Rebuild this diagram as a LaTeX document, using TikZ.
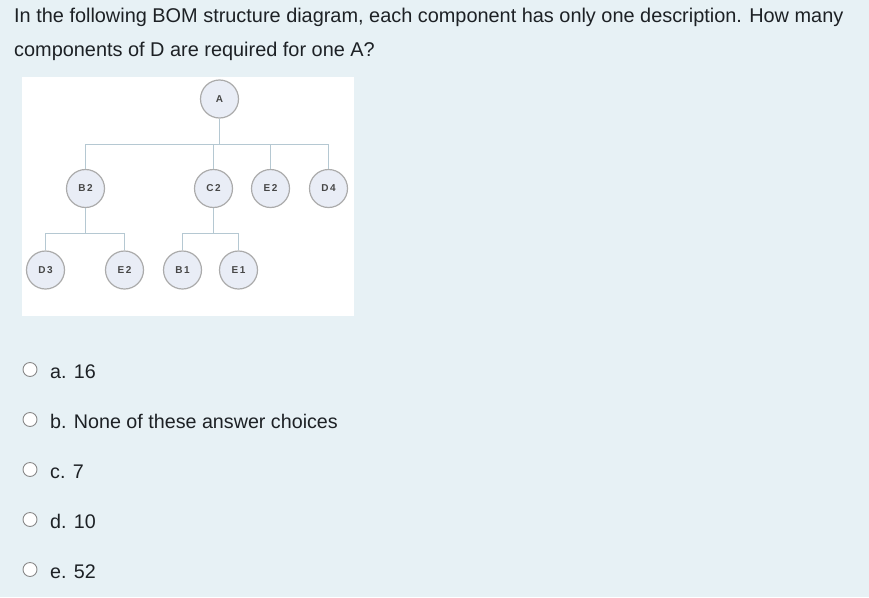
\documentclass[tikz,border=0pt]{standalone}
\usepackage{fontspec}
\setmainfont{Liberation Sans}
\definecolor{pagebg}{HTML}{E7F1F5}
\definecolor{txt}{HTML}{1D2125}
\definecolor{nodefill}{HTML}{E9EDF6}
\definecolor{nodeline}{HTML}{ABABAB}
\definecolor{linkcol}{HTML}{B5C8D2}
\definecolor{radioline}{HTML}{8A8A8A}
\begin{document}
\begin{tikzpicture}[x=1pt,y=-1pt,
  bom/.style={circle,draw=nodeline,line width=1.2pt,fill=nodefill,minimum size=38pt,inner sep=0pt,font=\fontsize{10}{12}\selectfont\bfseries,text=black!72},
  link/.style={draw=linkcol,line width=1pt},
  qtext/.style={anchor=base west,inner sep=0pt,text=txt,font=\fontsize{19.9}{24}\selectfont},
  opt/.style={anchor=base west,inner sep=0pt,text=txt,font=\fontsize{19.7}{24}\selectfont},
  radio/.style={circle,draw=radioline,line width=0.9pt,fill=white,minimum size=14pt,inner sep=0pt}]
\fill[pagebg] (0,0) rectangle (869,597);
\useasboundingbox (0,0) rectangle (869,597);
\node[qtext] (q1) at (14,22) {In the following BOM structure diagram, each component has only one description. How many};
\node[qtext] (q2) at (14,56) {components of D are required for one A?};
\fill[white] (22,77) rectangle (354,316);
% nodes
\node[bom] (A) at (219.5,99) {A};
\node[bom] (B2) at (85.5,188.5) {B\,2};
\node[bom] (C2) at (213.5,188.5) {C\,2};
\node[bom] (E2a) at (270.5,188.5) {E\,2};
\node[bom] (D4) at (328.5,188.5) {D\,4};
\node[bom] (D3) at (45.5,270) {D\,3};
\node[bom] (E2b) at (124.5,270) {E\,2};
\node[bom] (B1) at (182.5,270) {B\,1};
\node[bom] (E1) at (238.5,270) {E\,1};
\coordinate (jA) at (219.5,144);
\coordinate (jB) at (85.5,233.5);
\coordinate (jC) at (213.5,233.5);
% connectors
\draw[link] (A) -- (jA);
\draw[link] (B2) |- (jA);
\draw[link] (D4) |- (jA);
\draw[link] (C2) -- (C2 |- jA);
\draw[link] (E2a) -- (E2a |- jA);
\draw[link] (B2) -- (jB);
\draw[link] (D3) |- (jB);
\draw[link] (E2b) |- (jB);
\draw[link] (C2) -- (jC);
\draw[link] (B1) |- (jC);
\draw[link] (E1) |- (jC);
% options
\node[radio] (ra) at (30,369.5) {};
\node[radio] (rb) at (30,419.5) {};
\node[radio] (rc) at (30,469.5) {};
\node[radio] (rd) at (30,519.5) {};
\node[radio] (re) at (30,569.5) {};
\node[opt] (oa) at (50,378) {a. 16};
\node[opt] (ob) at (50,428) {b. None of these answer choices};
\node[opt] (oc) at (50,478) {c. 7};
\node[opt] (od) at (50,528) {d. 10};
\node[opt] (oe) at (50,578) {e. 52};
\end{tikzpicture}
\end{document}
